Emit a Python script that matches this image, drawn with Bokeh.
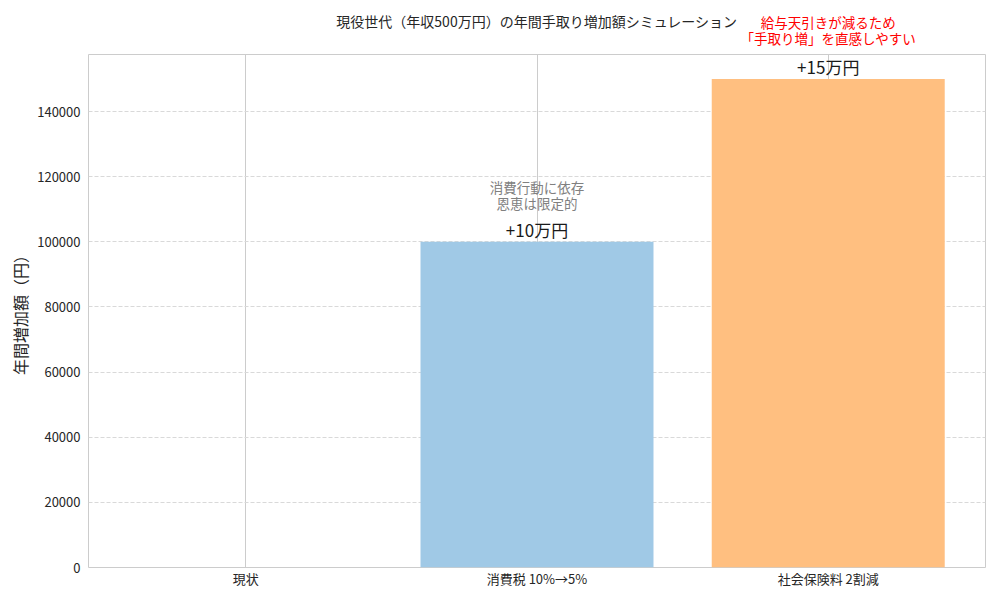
from bokeh.plotting import figure
from bokeh.layouts import column
from bokeh.models import ColumnDataSource, FactorRange, Label, SingleIntervalTicker
from bokeh.core.properties import value
from bokeh.embed import file_html
from bokeh.resources import INLINE

FONT = "Noto Sans CJK JP"

# データ
categories = ["現状", "消費税 10%→5%", "社会保険料 2割減"]
increase = [0, 100000, 150000]
bar_labels = ["", "+10万円", "+15万円"]
bar_colors = ["#cccccc", "#a0c9e6", "#ffbf80"]

source = ColumnDataSource(dict(cat=categories, val=increase, lab=bar_labels, col=bar_colors))

x_range = FactorRange(*categories, range_padding=0.04, range_padding_units="absolute")

p = figure(x_range=x_range, y_range=(0, 157500), width=990, height=540,
           output_backend="svg", toolbar_location=None,
           min_border_left=88, min_border_right=5, min_border_top=0, min_border_bottom=27)

p.vbar(x="cat", top="val", width=0.8, fill_color="col", line_color=None, source=source)

# 棒の上の金額ラベル
p.text(x="cat", y="val", text="lab", source=source, text_align="center", text_baseline="bottom",
       text_font=value(FONT), text_font_size="17px", text_color="#1a1a1a")

p.add_layout(Label(x=1.5, y=108800, text="消費行動に依存\n恩恵は限定的", text_align="center",
                   text_baseline="bottom", text_font=FONT, text_font_size="13.5px",
                   text_line_height=0.83, text_color="#808080"))

# 上部のタイトルと注釈（フレーム外なので別の図に描く）
top = figure(x_range=x_range, y_range=(0, 54), width=990, height=54,
             output_backend="svg", toolbar_location=None,
             x_axis_location=None, y_axis_location=None,
             min_border_left=88, min_border_right=5, min_border_top=0, min_border_bottom=0)
top.outline_line_color = None
top.grid.visible = False
top.add_layout(Label(x=1.5, y=34, text="現役世代（年収500万円）の年間手取り増加額シミュレーション",
                     text_align="center", text_baseline="middle", text_font=FONT,
                     text_font_size="14px", text_color="#262626"))
top.add_layout(Label(x=2.5, y=6, text="給与天引きが減るため\n「手取り増」を直感しやすい",
                     text_align="center", text_baseline="bottom", text_font=FONT,
                     text_font_size="13.5px", text_line_height=0.83, text_color="#ff0000"))

# 軸とグリッド
p.outline_line_color = "#cccccc"
p.xgrid.grid_line_color = "#cccccc"
p.ygrid.grid_line_color = "#d9d9d9"
p.ygrid.grid_line_dash = "4 2"
p.yaxis.ticker = SingleIntervalTicker(interval=20000)
p.yaxis.formatter.use_scientific = False
p.yaxis.axis_label = "年間増加額（円）"
p.yaxis.axis_label_text_font_style = "normal"
p.yaxis.axis_label_text_font_size = "16px"
p.yaxis.axis_label_standoff = 2
for ax in (p.xaxis, p.yaxis):
    ax.axis_line_color = None
    ax.major_tick_line_color = None
    ax.minor_tick_line_color = None
    ax.major_tick_out = 0
    ax.major_tick_in = 0
    ax.major_label_text_font = FONT
    ax.major_label_text_font_size = "13px"
    ax.major_label_text_color = "#262626"
    ax.axis_label_text_font = FONT
    ax.axis_label_text_color = "#262626"
p.xaxis.major_label_standoff = 1
p.yaxis.major_label_standoff = 4

layout = column(top, p, spacing=0)
open("out.html", "w").write(file_html(layout, INLINE))
